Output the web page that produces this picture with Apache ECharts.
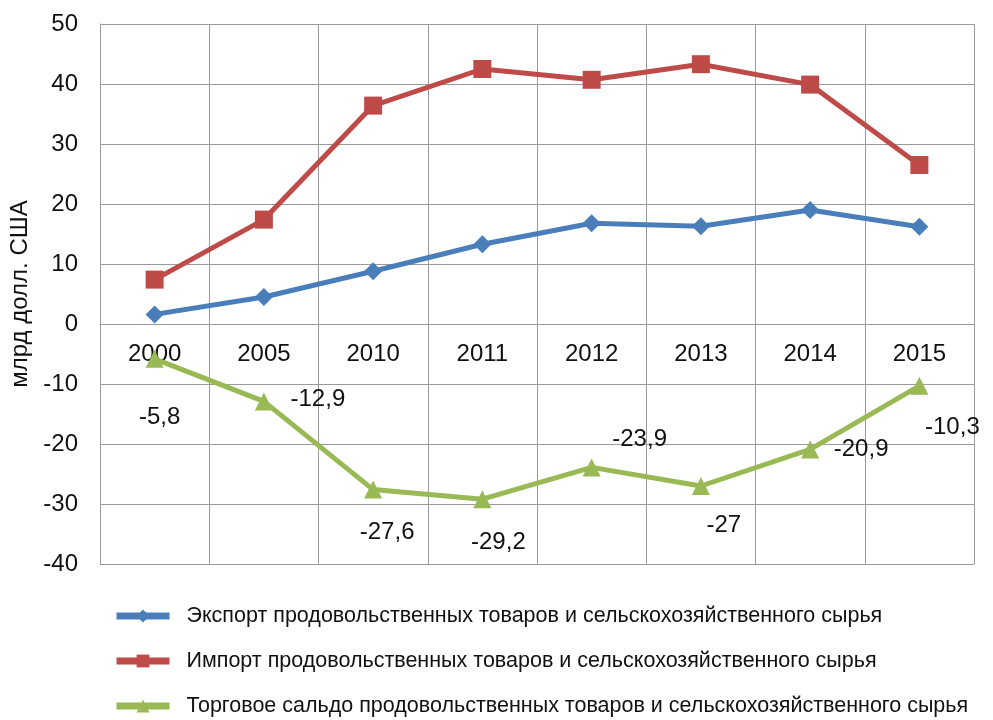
<!DOCTYPE html>
<html>
<head>
<meta charset="utf-8">
<script src="https://cdn.jsdelivr.net/npm/echarts@6/dist/echarts.min.js"></script>
<style>
    html, body { margin: 0; padding: 0; background: #fff; }
    #chart { width: 993px; height: 720px; }
</style>
</head>
<body>
<div id="chart"></div>
<script>
// данные
const years = ['2000', '2005', '2010', '2011', '2012', '2013', '2014', '2015'];
const exportValues = [1.6, 4.5, 8.8, 13.3, 16.8, 16.3, 19.0, 16.2];
const importValues = [7.4, 17.4, 36.4, 42.5, 40.7, 43.3, 39.9, 26.5];
const balanceValues = [-5.8, -12.9, -27.6, -29.2, -23.9, -27, -20.9, -10.3];
const seriesNames = [
    'Экспорт продовольственных товаров и сельскохозяйственного сырья',
    'Импорт продовольственных товаров и сельскохозяйственного сырья',
    'Торговое сальдо продовольственных товаров и сельскохозяйственного сырья'
];

const chart = echarts.init(document.getElementById('chart'));

// смещения подписей сальдо относительно точки
const labelOffsets = [[5, 59], [54, -2], [14, 43], [16, 43], [48, -28], [23, 39], [51, 0], [33, 42]];

const balanceData = balanceValues.map((v, i) => ({
    value: v,
    label: { offset: labelOffsets[i] }
}));

const font = 'Liberation Sans, Arial, sans-serif';

let option = {
    animation: false,
    grid: {
        left: 100,
        right: 19,
        top: 24,
        bottom: 156,
        outerBoundsMode: 'none'
    },
    legend: {
        orient: 'vertical',
        left: 108,
        top: 600,
        height: 200,
        itemWidth: 53,
        itemHeight: 16,
        itemGap: 23,
        lineStyle: { width: 7 },
        textStyle: {
            fontFamily: font,
            fontSize: 21.5,
            color: '#111',
            padding: [0, 0, 0, 12]
        },
        data: seriesNames
    },
    xAxis: {
        type: 'category',
        data: years,
        boundaryGap: true,
        offset: -240, // ось на уровне нуля
        axisLine: {
            lineStyle: { color: '#9a9a9a', width: 1 }
        },
        axisTick: { show: false },
        axisLabel: {
            margin: 18,
            fontFamily: font,
            fontSize: 24,
            color: '#111'
        },
        splitLine: {
            show: true,
            lineStyle: { color: '#9a9a9a', width: 1 }
        }
    },
    yAxis: {
        type: 'value',
        min: -40,
        max: 50,
        interval: 10,
        name: 'млрд долл. США',
        nameLocation: 'middle',
        nameGap: 66,
        nameTextStyle: {
            fontFamily: font,
            fontSize: 24,
            color: '#111'
        },
        axisLine: {
            show: true,
            lineStyle: { color: '#9a9a9a', width: 1 }
        },
        axisTick: { show: false },
        axisLabel: {
            margin: 22,
            fontFamily: font,
            fontSize: 24,
            color: '#111'
        },
        splitLine: {
            lineStyle: { color: '#9a9a9a', width: 1 }
        }
    },
    series: [
        {
            name: seriesNames[0],
            type: 'line',
            data: exportValues,
            symbol: 'diamond',
            symbolSize: 18,
            lineStyle: { color: '#4a7ebb', width: 5 },
            itemStyle: { color: '#4a7ebb' },
            z: 3
        },
        {
            name: seriesNames[1],
            type: 'line',
            data: importValues,
            symbol: 'rect',
            symbolSize: 18,
            lineStyle: { color: '#be4b48', width: 5 },
            itemStyle: { color: '#be4b48' },
            z: 3
        },
        {
            name: seriesNames[2],
            type: 'line',
            data: balanceData,
            symbol: 'triangle',
            symbolSize: 18,
            lineStyle: { color: '#98b954', width: 5 },
            itemStyle: { color: '#98b954' },
            label: {
                show: true,
                position: 'inside',
                fontFamily: font,
                fontSize: 24,
                color: '#111',
                formatter: p => String(p.value).replace('.', ',')
            },
            z: 3
        }
    ]
};

chart.setOption(option);
</script>
</body>
</html>
